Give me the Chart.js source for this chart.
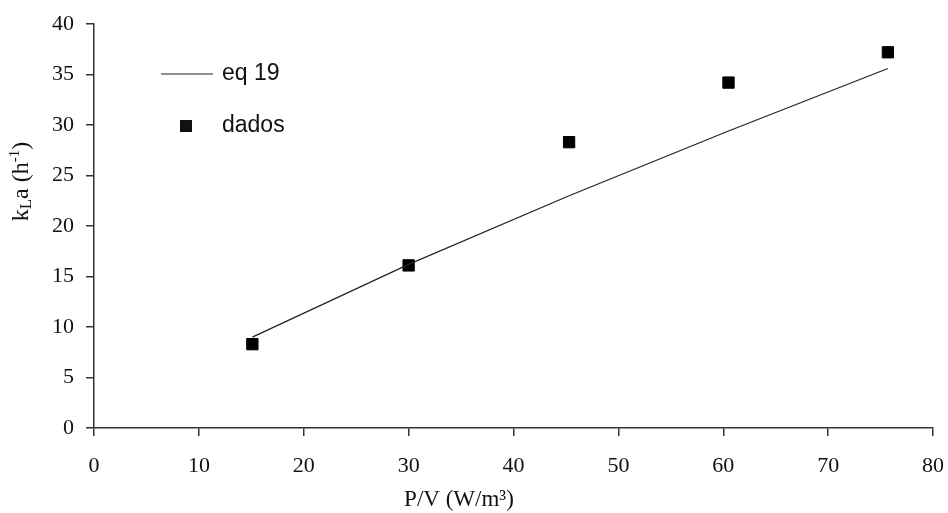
<!DOCTYPE html>
<html>
<head>
<meta charset="utf-8">
<script src="https://cdn.jsdelivr.net/npm/chart.js@4/dist/chart.umd.min.js"></script>
<style>
  html, body { margin: 0; padding: 0; background: #fff; }
  #wrap { width: 948px; height: 513px; }
</style>
</head>
<body>
<div id="wrap"><canvas id="klaChart"></canvas></div>
<script>
// values
const pvValues = [15.1, 30.0, 45.3, 60.5, 75.7];      // P/V (W/m3)
const klaValues = [8.3, 16.1, 28.3, 34.2, 37.2];      // kLa measured (dados)
const eqPv = [15.1, 30.0, 45.3, 60.5, 75.7];          // eq 19 curve
const eqKla = [9.0, 16.2, 23.0, 29.4, 35.6];
const xTicks = [0, 10, 20, 30, 40, 50, 60, 70, 80];
const yTicks = [0, 5, 10, 15, 20, 25, 30, 35, 40];
const seriesLabels = ['eq 19', 'dados'];

const serif = "'Liberation Serif', 'Times New Roman', serif";
const sans = "'Liberation Sans', Arial, sans-serif";
const axisColor = '#333';

// legend + axis titles (with sub/superscripts) drawn by hand
const extras = {
  id: 'extras',
  afterDraw(chart) {
    const ctx = chart.ctx;
    const a = chart.chartArea;
    ctx.save();
    ctx.fillStyle = '#111';

    // legend
    const lx = a.left + 67, ly1 = a.top + 50, ly2 = a.top + 102;
    ctx.strokeStyle = '#222';
    ctx.lineWidth = 1.2;
    ctx.beginPath();
    ctx.moveTo(lx, ly1);
    ctx.lineTo(lx + 52, ly1);
    ctx.stroke();
    ctx.fillRect(lx + 19, ly2 - 6, 12, 12);
    ctx.font = '23px ' + sans;
    ctx.textBaseline = 'middle';
    ctx.textAlign = 'left';
    ctx.fillText(chart.data.datasets[0].label, lx + 61, ly1);
    ctx.fillText(chart.data.datasets[1].label, lx + 61, ly2);

    // x title
    ctx.font = '23px ' + serif;
    ctx.textAlign = 'center';
    ctx.fillText('P/V (W/m\u00B3)', a.left + 0.435 * (a.right - a.left), 500);

    // y title: k_L a (h^-1)
    ctx.translate(22, a.top + 0.39 * (a.bottom - a.top));
    ctx.rotate(-Math.PI / 2);
    const parts = [
      { t: 'k', f: '24px ', dy: 0 },
      { t: 'L', f: '17px ', dy: 5 },
      { t: 'a (h', f: '24px ', dy: 0 },
      { t: '-1', f: '15px ', dy: -7 },
      { t: ')', f: '24px ', dy: 0 }
    ];
    let total = 0;
    parts.forEach(p => { ctx.font = p.f + serif; p.w = ctx.measureText(p.t).width; total += p.w; });
    let x = -total / 2;
    ctx.textAlign = 'left';
    parts.forEach(p => {
      ctx.font = p.f + serif;
      ctx.fillText(p.t, x, p.dy);
      x += p.w;
    });
    ctx.restore();
  }
};

const ctx = document.getElementById('klaChart').getContext('2d');
const klaChart = new Chart(ctx, {
  type: 'scatter',
  data: {
    datasets: [{
      label: seriesLabels[0],
      data: eqPv.map((v, i) => ({ x: v, y: eqKla[i] })),
      showLine: true,
      borderColor: '#222',
      borderWidth: 1.2,
      pointRadius: 0,
      fill: false
    }, {
      label: seriesLabels[1],
      data: pvValues.map((v, i) => ({ x: v, y: klaValues[i] })),
      showLine: false,
      pointStyle: 'rect',
      pointRadius: 8,
      backgroundColor: '#000',
      borderColor: '#000',
      borderWidth: 1
    }]
  },
  options: {
    responsive: true,
    maintainAspectRatio: false,
    animation: false,
    layout: { padding: { left: 0, top: 24, right: 15, bottom: 0 } },
    plugins: {
      legend: { display: false },
      tooltip: { enabled: false }
    },
    scales: {
      x: {
        type: 'linear',
        min: 0,
        max: 80,
        afterBuildTicks: s => { s.ticks = xTicks.map(v => ({ value: v })); },
        afterFit: s => { s.height = 85; s.paddingLeft = 0; s.paddingRight = 0; },
        grid: { display: true, drawOnChartArea: false, drawTicks: true, tickLength: 8, color: axisColor, lineWidth: 1.5 },
        border: { display: true, color: axisColor, width: 1.5 },
        ticks: { color: '#111', padding: 17, maxRotation: 0, font: { family: serif, size: 22 } }
      },
      y: {
        type: 'linear',
        min: 0,
        max: 40,
        afterBuildTicks: s => { s.ticks = yTicks.map(v => ({ value: v })); },
        afterFit: s => { s.width = 94; s.paddingTop = 0; s.paddingBottom = 0; },
        grid: { display: true, drawOnChartArea: false, drawTicks: true, tickLength: 8, color: axisColor, lineWidth: 1.5 },
        border: { display: true, color: axisColor, width: 1.5 },
        ticks: { color: '#111', padding: 12, font: { family: serif, size: 22 } }
      }
    }
  },
  plugins: [extras]
});
</script>
</body>
</html>
